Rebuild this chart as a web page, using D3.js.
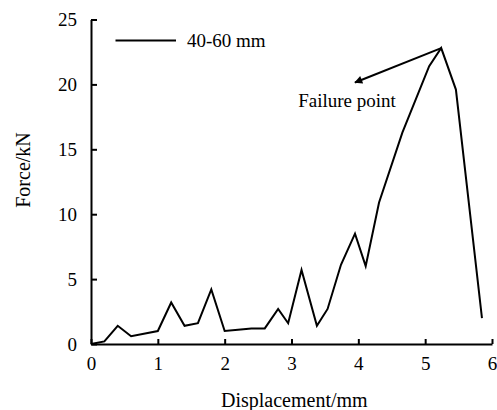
<!DOCTYPE html>
<html><head><meta charset="utf-8">
<script src="https://cdn.jsdelivr.net/npm/d3@7"></script>
<style>svg text{font-family:"Times New Roman","Liberation Serif",serif !important;}</style>
</head>
<body style="margin:0;background:#fff"><svg id="c" width="497" height="410" font-family="Liberation Serif"></svg>
<script>
const displacement = [0, 0.2, 0.4, 0.6, 1.0, 1.2, 1.4, 1.6, 1.8, 2.0, 2.2, 2.4, 2.6, 2.8, 2.95, 3.15, 3.38, 3.54, 3.74, 3.95, 4.11, 4.31, 4.66, 5.06, 5.24, 5.46, 5.85];
const force =        [0, 0.2, 1.4, 0.6, 1.0, 3.2, 1.4, 1.6, 4.2, 1.0, 1.1, 1.2, 1.2, 2.7, 1.6, 5.7, 1.4, 2.7, 6.1, 8.5, 6.0, 10.9, 16.3, 21.4, 22.8, 19.6, 2.0];
const xTicks = [0, 1, 2, 3, 4, 5, 6];
const yTicks = [0, 5, 10, 15, 20, 25];
const seriesName = "40-60 mm";
const xTitle = "Displacement/mm";
const yTitle = "Force/kN";
const annotationText = "Failure point";
const arrowFrom = [5.24, 22.8];
const arrowTo = [3.95, 20.15];
const annotationPos = [3.1, 18.25];

const FONT = "Times New Roman";
const fs = "19px";
const svg = d3.select("#c");
const m = {l: 91, r: 5, t: 19.5, b: 66};
const W = 497, H = 410;
const x = d3.scaleLinear().domain([0, 6]).range([m.l, W - m.r]);
const y = d3.scaleLinear().domain([0, 25]).range([H - m.b, m.t]);

function styleText(sel, size) {
  return sel.attr("font-family", FONT).style("font-family", FONT).style("font-size", size || fs).style("fill", "#000");
}

const xa = svg.append("g").attr("transform", `translate(0,${y(0)})`)
  .call(d3.axisBottom(x).tickValues(xTicks).tickSizeInner(-5).tickSizeOuter(0).tickPadding(13).tickFormat(d3.format("d")));
const ya = svg.append("g").attr("transform", `translate(${x(0)},0)`)
  .call(d3.axisLeft(y).tickValues(yTicks).tickSizeInner(-6).tickSizeOuter(0).tickPadding(14).tickFormat(d3.format("d")));
[xa, ya].forEach(a => {
  a.attr("font-family", FONT).attr("font-size", 19);
  a.select(".domain").attr("stroke", "#000").attr("stroke-width", 2);
  a.selectAll(".tick line").attr("stroke", "#000").attr("stroke-width", 2);
  styleText(a.selectAll(".tick text"));
});

const line = d3.line().x((d, i) => x(displacement[i])).y(d => y(d));
svg.append("path").datum(force).attr("d", line)
  .attr("fill", "none").attr("stroke", "#000").attr("stroke-width", 2).attr("stroke-linejoin", "miter");

svg.append("defs").append("marker").attr("id", "ah").attr("viewBox", "0 0 10 10")
  .attr("refX", 9).attr("refY", 5).attr("markerWidth", 5).attr("markerHeight", 4).attr("orient", "auto")
  .attr("markerUnits", "strokeWidth")
  .append("path").attr("d", "M0,0 L10,5 L0,10 Z").attr("fill", "#000");
svg.append("line").attr("x1", x(arrowFrom[0])).attr("y1", y(arrowFrom[1]))
  .attr("x2", x(arrowTo[0])).attr("y2", y(arrowTo[1]))
  .attr("stroke", "#000").attr("stroke-width", 2).attr("marker-end", "url(#ah)");
styleText(svg.append("text").attr("x", x(annotationPos[0])).attr("y", y(annotationPos[1]))).text(annotationText);

svg.append("line").attr("x1", 115.5).attr("x2", 176).attr("y1", 40.5).attr("y2", 40.5)
  .attr("stroke", "#000").attr("stroke-width", 2);
styleText(svg.append("text").attr("x", 187).attr("y", 46.5)).text(seriesName);

styleText(svg.append("text").attr("x", 221).attr("y", 406.5), "20px").text(xTitle);
styleText(svg.append("text").attr("transform", `translate(30,170) rotate(-90)`).attr("text-anchor", "middle"), "20px").text(yTitle);
</script></body></html>
